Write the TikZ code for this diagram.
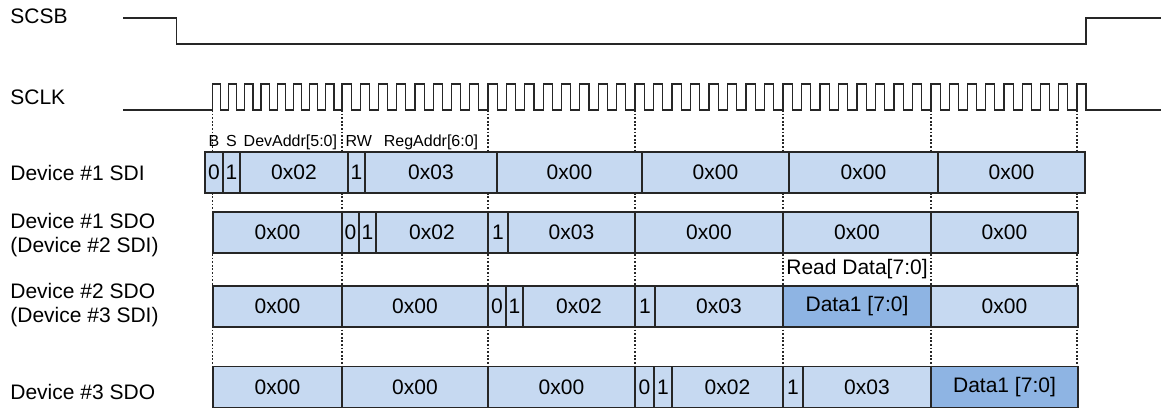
\documentclass[tikz,border=0pt]{standalone}
\usepackage{fontspec}
\setmainfont{Liberation Sans}
\usetikzlibrary{positioning}
\definecolor{cellblue}{RGB}{198,217,241}
\definecolor{datablue}{RGB}{142,180,227}
\definecolor{edgegray}{RGB}{38,38,38}
\tikzset{
  cell/.style={draw=edgegray,fill=cellblue,line width=0.6pt,inner sep=0pt,
    minimum height=20.5pt,font=\fontsize{10.5}{12}\selectfont},
  datacell/.style={cell,fill=datablue},
  sig/.style={draw=edgegray,line width=0.6pt},
  guide/.style={draw=edgegray,line width=0.55pt,dash pattern=on 0.9pt off 0.9pt},
  rowlabel/.style={anchor=west,align=left,inner sep=0pt,font=\fontsize{10.5}{12}\selectfont},
  fieldtag/.style={anchor=base,inner sep=0pt,font=\fontsize{8}{9.6}\selectfont},
}
\begin{document}
\begin{tikzpicture}[x=0.5pt,y=-0.5pt]
  \useasboundingbox (0,0) rectangle (1161,408);
  \foreach \gx in {212.5,342,488,635,783,931,1077}
    \draw[guide] (\gx,110) -- (\gx,367);
  \draw[sig] (123,18) -- (176.5,18) -- (176.5,44) -- (1086,44) -- (1086,18) -- (1161,18);
  \draw[sig] (123,110) -- (212.5,110)
    \foreach \xa/\xb in {212.5/342,342/488,488/635,635/783,783/931,931/1077} {
      \foreach \k in {0,...,7} {
        -- ({\xa+(\xb-\xa)*\k/8},110) -- ({\xa+(\xb-\xa)*\k/8},84)
        -- ({\xa+(\xb-\xa)*(\k+0.5)/8},84) -- ({\xa+(\xb-\xa)*(\k+0.5)/8},110)
      }
    }
    -- (1077,110) -- (1077,84) -- (1086,84) -- (1086,110) -- (1161,110);
  \node[rowlabel] (lscsb) at (10,16) {SCSB};
  \node[rowlabel] (lsclk) at (10,97) {SCLK};
  \node[rowlabel] (lsdi) at (10,173) {Device \#1 SDI};
  \node[rowlabel] (lsdoa) at (10,235.5) {Device \#1 SDO\\(Device \#2 SDI)};
  \node[rowlabel] (lsdob) at (10,305) {Device \#2 SDO\\(Device \#3 SDI)};
  \node[rowlabel] (lsdoc) at (10,392) {Device \#3 SDO};
  \foreach \xa/\xb/\t/\s [count=\i] in {205/223/0/cell, 223/240/1/cell, 240/348/0x02/cell,
      348/365/1/cell, 365/497/0x03/cell, 497/642/0x00/cell, 642/789/0x00/cell,
      789/938/0x00/cell, 938/1085/0x00/cell}
    \node[\s,minimum width={(\xb-\xa)*0.5pt}] (sdi-\i) at ({(\xa+\xb)/2},172.5) {\t};
  \foreach \xa/\xb/\t/\s [count=\i] in {213/342/0x00/cell, 342/359/0/cell, 359/376/1/cell,
      376/488/0x02/cell, 488/508/1/cell, 508/635/0x03/cell, 635/783/0x00/cell,
      783/931/0x00/cell, 931/1078/0x00/cell}
    \node[\s,minimum width={(\xb-\xa)*0.5pt}] (sdoa-\i) at ({(\xa+\xb)/2},232.5) {\t};
  \foreach \xa/\xb/\t/\s [count=\i] in {213/342/0x00/cell, 342/488/0x00/cell, 488/506/0/cell,
      506/523/1/cell, 523/635/0x02/cell, 635/655/1/cell, 655/783/0x03/cell,
      783/931/Data1 [7:0]/datacell, 931/1078/0x00/cell}
    \node[\s,minimum width={(\xb-\xa)*0.5pt}] (sdob-\i) at ({(\xa+\xb)/2},306.5) {\t};
  \foreach \xa/\xb/\t/\s [count=\i] in {213/342/0x00/cell, 342/488/0x00/cell, 488/635/0x00/cell,
      635/654/0/cell, 654/672/1/cell, 672/783/0x02/cell, 783/803/1/cell,
      803/931/0x03/cell, 931/1078/Data1 [7:0]/datacell}
    \node[\s,minimum width={(\xb-\xa)*0.5pt}] (sdoc-\i) at ({(\xa+\xb)/2},387) {\t};
  \node[fieldtag] (tagb) at ([yshift=2.5pt]sdi-1.north) {B};
  \node[fieldtag] (tags) at ([yshift=2.5pt]sdi-2.north) {S};
  \node[fieldtag] (tagdev) at ([xshift=-1.8pt,yshift=2.5pt]sdi-3.north) {DevAddr[5:0]};
  \node[fieldtag] (tagrw) at ([xshift=1.2pt,yshift=2.5pt]sdi-4.north) {RW};
  \node[fieldtag] (tagreg) at ([yshift=2.5pt]sdi-5.north) {RegAddr[6:0]};
  \node[font=\fontsize{10.5}{12}\selectfont,inner sep=0pt] (readlbl) at (857,269.5) {Read Data[7:0]};
\end{tikzpicture}
\end{document}
